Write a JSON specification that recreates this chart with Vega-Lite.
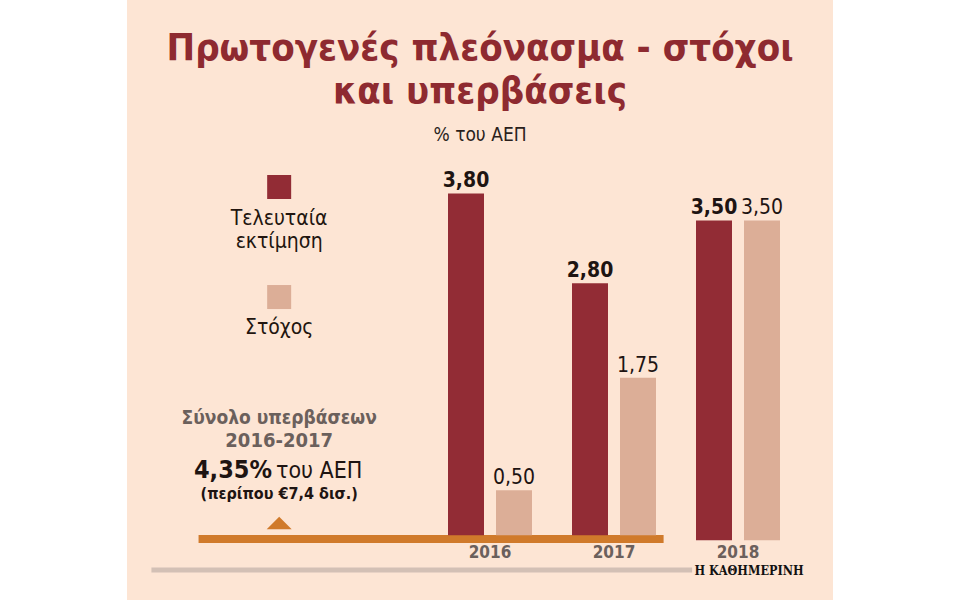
{
  "$schema": "https://vega.github.io/schema/vega-lite/v6.json",
  "autosize": {"type": "fit", "contains": "padding"},
  "width": 960,
  "height": 600,
  "padding": {"left": 127, "right": 127, "top": 0, "bottom": 0},
  "background": "#ffffff",
  "title": {
    "text": ["Πρωτογενές πλεόνασμα - στόχοι", "και υπερβάσεις"],
    "subtitle": "% του ΑΕΠ",
    "anchor": "middle",
    "frame": "group",
    "offset": -145,
    "font": "DejaVu Sans Condensed, DejaVu Sans, sans-serif",
    "fontSize": 38,
    "fontWeight": "bold",
    "color": "#8e2a30",
    "lineHeight": 43,
    "subtitleFont": "DejaVu Sans Condensed, DejaVu Sans, sans-serif",
    "subtitleFontSize": 19,
    "subtitleColor": "#2a1f1c",
    "subtitlePadding": 15
  },
  "config": {
    "view": {"fill": "#fde5d4", "stroke": null},
    "locale": {"number": {"decimal": ",", "thousands": ".", "grouping": [3], "currency": ["", " €"]}},
    "text": {"font": "DejaVu Sans Condensed, DejaVu Sans, sans-serif"}
  },
  "resolve": {"scale": {"x": "independent"}},
  "layer": [
    {
      "data": {"values": [{}]},
      "mark": {"type": "rule", "color": "#d07a2b", "strokeWidth": 8},
      "encoding": {
        "x": {"datum": 2013.65, "type": "quantitative", "scale": {"domain": [2013.073, 2018.766], "nice": false, "zero": false}, "axis": null},
        "x2": {"datum": 2017.4},
        "y": {"datum": -0.042, "type": "quantitative", "scale": {"domain": [-0.72, 5.95], "nice": false, "zero": false}, "axis": null}
      }
    },
    {
      "data": {"values": [{}]},
      "mark": {"type": "rule", "color": "#d3c0b5", "strokeWidth": 5},
      "encoding": {
        "x": {"datum": 2013.27, "type": "quantitative", "scale": {"domain": [2013.073, 2018.766], "nice": false, "zero": false}, "axis": null},
        "x2": {"datum": 2017.63},
        "y": {"datum": -0.387, "type": "quantitative", "scale": {"domain": [-0.72, 5.95], "nice": false, "zero": false}, "axis": null}
      }
    },
    {
      "data": {"values": [{}]},
      "mark": {"type": "point", "shape": "M-1,0.5L1,0.5L0,-0.5Z", "size": 625, "filled": true, "opacity": 1, "color": "#d07a2b"},
      "encoding": {
        "x": {"datum": 2014.3, "type": "quantitative", "scale": {"domain": [2013.073, 2018.766], "nice": false, "zero": false}, "axis": null},
        "y": {"datum": 0.136, "type": "quantitative", "scale": {"domain": [-0.72, 5.95], "nice": false, "zero": false}, "axis": null}
      }
    },
    {
      "data": {"values": [{}]},
      "mark": {"type": "point", "shape": "square", "size": 576, "filled": true, "opacity": 1, "color": "#922c35"},
      "encoding": {
        "x": {"datum": 2014.3, "type": "quantitative", "scale": {"domain": [2013.073, 2018.766], "nice": false, "zero": false}, "axis": null},
        "y": {"datum": 3.871, "type": "quantitative", "scale": {"domain": [-0.72, 5.95], "nice": false, "zero": false}, "axis": null}
      }
    },
    {
      "data": {"values": [{}]},
      "mark": {"type": "point", "shape": "square", "size": 576, "filled": true, "opacity": 1, "color": "#dcae97"},
      "encoding": {
        "x": {"datum": 2014.3, "type": "quantitative", "scale": {"domain": [2013.073, 2018.766], "nice": false, "zero": false}, "axis": null},
        "y": {"datum": 2.648, "type": "quantitative", "scale": {"domain": [-0.72, 5.95], "nice": false, "zero": false}, "axis": null}
      }
    },
    {
      "data": {"values": [{}]},
      "mark": {"type": "text", "text": ["Τελευταία", "εκτίμηση"], "fontSize": 21, "lineHeight": 23, "baseline": "alphabetic", "align": "center", "color": "#22150f"},
      "encoding": {
        "x": {"datum": 2014.3, "type": "quantitative", "scale": {"domain": [2013.073, 2018.766], "nice": false, "zero": false}, "axis": null},
        "y": {"datum": 3.449, "type": "quantitative", "scale": {"domain": [-0.72, 5.95], "nice": false, "zero": false}, "axis": null}
      }
    },
    {
      "data": {"values": [{}]},
      "mark": {"type": "text", "text": "Στόχος", "fontSize": 21, "baseline": "alphabetic", "align": "center", "color": "#22150f"},
      "encoding": {
        "x": {"datum": 2014.3, "type": "quantitative", "scale": {"domain": [2013.073, 2018.766], "nice": false, "zero": false}, "axis": null},
        "y": {"datum": 2.237, "type": "quantitative", "scale": {"domain": [-0.72, 5.95], "nice": false, "zero": false}, "axis": null}
      }
    },
    {
      "data": {"values": [{}]},
      "mark": {"type": "text", "text": "Σύνολο υπερβάσεων", "fontSize": 19, "fontWeight": "bold", "baseline": "alphabetic", "align": "center", "color": "#6b605c"},
      "encoding": {
        "x": {"datum": 2014.3, "type": "quantitative", "scale": {"domain": [2013.073, 2018.766], "nice": false, "zero": false}, "axis": null},
        "y": {"datum": 1.242, "type": "quantitative", "scale": {"domain": [-0.72, 5.95], "nice": false, "zero": false}, "axis": null}
      }
    },
    {
      "data": {"values": [{}]},
      "mark": {"type": "text", "text": "2016-2017", "fontSize": 20, "fontWeight": "bold", "baseline": "alphabetic", "align": "center", "color": "#6b605c"},
      "encoding": {
        "x": {"datum": 2014.3, "type": "quantitative", "scale": {"domain": [2013.073, 2018.766], "nice": false, "zero": false}, "axis": null},
        "y": {"datum": 0.981, "type": "quantitative", "scale": {"domain": [-0.72, 5.95], "nice": false, "zero": false}, "axis": null}
      }
    },
    {
      "data": {"values": [{}]},
      "mark": {"type": "text", "text": "4,35%", "fontSize": 25, "fontWeight": "bold", "baseline": "alphabetic", "align": "right", "color": "#1e1412"},
      "encoding": {
        "x": {"datum": 2014.242, "type": "quantitative", "scale": {"domain": [2013.073, 2018.766], "nice": false, "zero": false}, "axis": null},
        "y": {"datum": 0.636, "type": "quantitative", "scale": {"domain": [-0.72, 5.95], "nice": false, "zero": false}, "axis": null}
      }
    },
    {
      "data": {"values": [{}]},
      "mark": {"type": "text", "text": "του ΑΕΠ", "fontSize": 23, "baseline": "alphabetic", "align": "left", "color": "#1e1412"},
      "encoding": {
        "x": {"datum": 2014.274, "type": "quantitative", "scale": {"domain": [2013.073, 2018.766], "nice": false, "zero": false}, "axis": null},
        "y": {"datum": 0.636, "type": "quantitative", "scale": {"domain": [-0.72, 5.95], "nice": false, "zero": false}, "axis": null}
      }
    },
    {
      "data": {"values": [{}]},
      "mark": {"type": "text", "text": "(περίπου €7,4 δισ.)", "fontSize": 16, "fontWeight": "bold", "baseline": "alphabetic", "align": "center", "color": "#1e1412"},
      "encoding": {
        "x": {"datum": 2014.3, "type": "quantitative", "scale": {"domain": [2013.073, 2018.766], "nice": false, "zero": false}, "axis": null},
        "y": {"datum": 0.403, "type": "quantitative", "scale": {"domain": [-0.72, 5.95], "nice": false, "zero": false}, "axis": null}
      }
    },
    {
      "data": {"values": [{}]},
      "mark": {"type": "text", "text": "Η ΚΑΘΗΜΕΡΙΝΗ", "font": "DejaVu Serif Condensed, Liberation Serif, serif", "fontSize": 12.5, "fontWeight": "bold", "baseline": "alphabetic", "align": "center", "color": "#111111"},
      "encoding": {
        "x": {"datum": 2018.089, "type": "quantitative", "scale": {"domain": [2013.073, 2018.766], "nice": false, "zero": false}, "axis": null},
        "y": {"datum": -0.442, "type": "quantitative", "scale": {"domain": [-0.72, 5.95], "nice": false, "zero": false}, "axis": null}
      }
    },
    {
      "data": {"values": [
        {"year": "2016", "series": "Τελευταία εκτίμηση", "value": 3.80},
        {"year": "2016", "series": "Στόχος", "value": 0.50},
        {"year": "2017", "series": "Τελευταία εκτίμηση", "value": 2.80},
        {"year": "2017", "series": "Στόχος", "value": 1.75},
        {"year": "2018", "series": "Τελευταία εκτίμηση", "value": 3.50},
        {"year": "2018", "series": "Στόχος", "value": 3.50}
      ]},
      "encoding": {
        "x": {
          "field": "year", "type": "nominal",
          "scale": {"range": [321, 653], "paddingInner": 0.3226, "paddingOuter": 0},
          "axis": {"orient": "bottom", "offset": -56, "domain": false, "ticks": false, "grid": false, "title": null, "labelAngle": 0, "labelPadding": 0, "labelFont": "DejaVu Sans Condensed, DejaVu Sans, sans-serif", "labelFontSize": 17, "labelFontWeight": "bold", "labelColor": "#6b605c"}
        },
        "xOffset": {"field": "series", "type": "nominal", "sort": ["Τελευταία εκτίμηση", "Στόχος"], "scale": {"paddingInner": 0.25, "paddingOuter": 0}},
        "y": {"field": "value", "type": "quantitative", "scale": {"domain": [-0.72, 5.95], "nice": false, "zero": false}, "axis": null}
      },
      "layer": [
        {
          "mark": {"type": "bar", "y2Offset": {"expr": "datum.year === '2018' ? 5 : 0"}},
          "encoding": {
            "y2": {"datum": 0},
            "color": {"field": "series", "type": "nominal", "scale": {"domain": ["Τελευταία εκτίμηση", "Στόχος"], "range": ["#922c35", "#dcae97"]}, "legend": null}
          }
        },
        {
          "transform": [{"filter": "datum.series === 'Τελευταία εκτίμηση'"}],
          "mark": {"type": "text", "fontSize": 21, "fontWeight": "bold", "baseline": "alphabetic", "dy": -6, "color": "#1e1412"},
          "encoding": {"text": {"field": "value", "type": "quantitative", "format": ".2f"}}
        },
        {
          "transform": [{"filter": "datum.series === 'Στόχος'"}],
          "mark": {"type": "text", "fontSize": 21, "baseline": "alphabetic", "dy": -6, "color": "#1e1412"},
          "encoding": {"text": {"field": "value", "type": "quantitative", "format": ".2f"}}
        }
      ]
    }
  ]
}
